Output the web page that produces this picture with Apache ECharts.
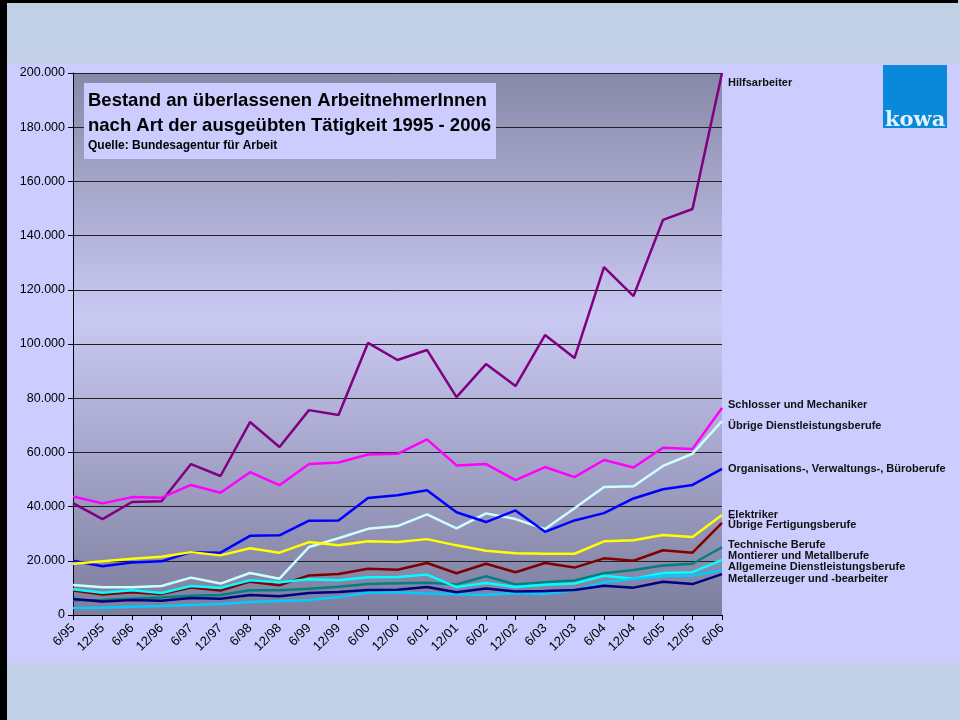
<!DOCTYPE html>
<html>
<head>
<meta charset="utf-8">
<script src="https://cdn.jsdelivr.net/npm/echarts@6/dist/echarts.min.js"></script>
<style>
  html, body { margin: 0; padding: 0; }
  #chart { width: 960px; height: 720px; }
</style>
</head>
<body>
<div id="chart"></div>
<script>
// Halbjahre 6/95 - 6/06
const categories = ['6/95', '12/95', '6/96', '12/96', '6/97', '12/97', '6/98', '12/98', '6/99', '12/99', '6/00', '12/00',
  '6/01', '12/01', '6/02', '12/02', '6/03', '12/03', '6/04', '12/04', '6/05', '12/05', '6/06']

const hilfsarbeiter = [41300, 35400, 41700, 42000, 55700, 51300, 71200, 62000, 75600, 73800, 100400, 94100,
  97800, 80400, 92600, 84500, 103300, 94800, 128400, 117700, 145800, 149800, 200000]
const schlosser = [43700, 41200, 43500, 43300, 48000, 45100, 52700, 47900, 55700, 56300, 59200, 59500,
  64800, 55200, 55700, 49800, 54600, 50900, 57200, 54400, 61700, 61300, 76400]
const uebrigeDienst = [11100, 10200, 10200, 10700, 13800, 11600, 15500, 13400, 25100, 28300, 31800, 32800,
  37100, 32000, 37500, 35400, 31700, 39400, 47200, 47500, 55000, 59500, 71600]
const organisation = [20000, 18000, 19400, 19800, 23200, 23000, 29200, 29400, 34800, 34900, 43200, 44200,
  46000, 37900, 34300, 38600, 30700, 34900, 37600, 43000, 46400, 48000, 53900]
const elektriker = [18900, 19800, 20800, 21500, 23200, 22000, 24600, 23000, 26900, 25700, 27200, 26900,
  28000, 25700, 23700, 22800, 22600, 22600, 27200, 27600, 29500, 28800, 36900]
const fertigung = [9000, 7600, 8400, 7700, 10100, 9000, 12300, 11000, 14600, 15100, 17100, 16700,
  19200, 15400, 18900, 15800, 19200, 17500, 20900, 20000, 23900, 23000, 34000]
const technisch = [5400, 5500, 6000, 6500, 7100, 7400, 9100, 9100, 9700, 10400, 11400, 11700,
  11900, 11300, 14300, 11300, 12100, 12700, 15400, 16600, 18300, 18900, 25000]
const montierer = [9500, 8200, 9100, 8100, 10700, 10000, 12800, 12100, 13200, 12800, 13900, 14000,
  14900, 10300, 11800, 10300, 11200, 11600, 14500, 13400, 15500, 15800, 20300]
const allgemein = [2600, 2700, 3000, 3300, 3700, 4100, 4800, 5200, 5500, 6600, 8200, 8400,
  7900, 7700, 7400, 8100, 7700, 9100, 12100, 13300, 14400, 14500, 16600]
const metall = [5900, 5000, 5500, 5300, 6300, 6000, 7400, 6900, 8100, 8500, 9200, 9300,
  10300, 8400, 9800, 8700, 8900, 9200, 10800, 10100, 12300, 11400, 15100]

const seriesNames = ['Hilfsarbeiter', 'Schlosser und Mechaniker', 'Übrige Dienstleistungsberufe',
  'Organisations-, Verwaltungs-, Büroberufe', 'Elektriker', 'Übrige Fertigungsberufe', 'Technische Berufe',
  'Montierer und Metallberufe', 'Allgemeine Dienstleistungsberufe', 'Metallerzeuger und -bearbeiter']
const seriesData = [hilfsarbeiter, schlosser, uebrigeDienst, organisation, elektriker, fertigung, technisch,
  montierer, allgemein, metall]
const colors = ['#800080', '#ff00ff', '#ccffff', '#0000ff', '#ffff00', '#800000', '#008080', '#00ffff', '#00ccff', '#000080']
// vertikale Verschiebung der Beschriftungen rechts, damit sie nicht überlappen
const labelShift = [10, -3, 5, 0, 0, 2, -2, -4, -3, 5]

const font = 'Liberation Sans, Arial, sans-serif'

function fmt(v) {
  return String(v).replace(/\B(?=(\d{3})+(?!\d))/g, '.')
}

const chart = echarts.init(document.getElementById('chart'))

const option = {
  backgroundColor: '#c2d0e6',
  animation: false,
  textStyle: { fontFamily: font },
  title: {
    text: 'Bestand an überlassenen ArbeitnehmerInnen\nnach Art der ausgeübten Tätigkeit 1995 - 2006',
    subtext: 'Quelle: Bundesagentur für Arbeit',
    left: 84,
    top: 83,
    backgroundColor: '#ccccff',
    padding: [5, 5, 6, 4],
    itemGap: 1,
    textStyle: { fontSize: 18.5, fontWeight: 'bold', color: '#000', lineHeight: 25, fontFamily: font },
    subtextStyle: { fontSize: 12, fontWeight: 'bold', color: '#000', lineHeight: 14, fontFamily: font }
  },
  graphic: [
    { type: 'rect', z: -100, shape: { x: 0, y: 63, width: 960, height: 600 }, style: { fill: '#ccccff' } },
    { type: 'rect', z: -99, shape: { x: 0, y: 0, width: 958, height: 3 }, style: { fill: '#000' } },
    { type: 'rect', z: -99, shape: { x: 0, y: 0, width: 7, height: 720 }, style: { fill: '#000' } },
    // kowa Logo
    { type: 'rect', z: 100, shape: { x: 883, y: 65, width: 64, height: 63 }, style: { fill: '#0a88da' } },
    {
      type: 'text', z: 101, left: 885, top: 110,
      style: { text: 'kowa', fill: '#e2f2ff', font: 'bold 21px "DejaVu Serif", serif' }
    },
    { type: 'rect', z: 102, shape: { x: 880, y: 128, width: 70, height: 12 }, style: { fill: '#ccccff' } }
  ],
  grid: {
    left: 73,
    right: 238,
    top: 73,
    bottom: 105,
    show: true,
    borderWidth: 0,
    backgroundColor: new echarts.graphic.LinearGradient(0, 0, 0, 1, [
      { offset: 0, color: '#8888a9' },
      { offset: 0.45, color: '#c9c9f3' },
      { offset: 1, color: '#7d7d9e' }
    ])
  },
  xAxis: {
    type: 'category',
    data: categories,
    boundaryGap: false,
    axisLine: { lineStyle: { color: '#000', width: 1 } },
    axisTick: { show: true, length: 5, interval: 0, lineStyle: { color: '#000' } },
    axisLabel: { interval: 0, rotate: 45, fontSize: 13, color: '#000', margin: 11 }
  },
  yAxis: {
    type: 'value',
    min: 0,
    max: 200000,
    interval: 20000,
    axisLine: { show: true, lineStyle: { color: '#000', width: 1 } },
    axisTick: { show: true, length: 5, lineStyle: { color: '#000' } },
    axisLabel: { fontSize: 12.5, color: '#000', margin: 8, formatter: fmt },
    splitLine: { lineStyle: { color: '#222', width: 1 } }
  },
  series: seriesNames.map((name, i) => {
    return {
      name: name,
      type: 'line',
      data: seriesData[i],
      symbol: 'none',
      color: colors[i],
      lineStyle: { width: 2.5, color: colors[i] },
      endLabel: {
        show: true,
        formatter: '{a}',
        distance: 6,
        offset: [0, labelShift[i]],
        fontSize: 11,
        fontWeight: 'bold',
        color: '#111',
        fontFamily: font
      }
    }
  })
}

chart.setOption(option)
</script>
</body>
</html>
